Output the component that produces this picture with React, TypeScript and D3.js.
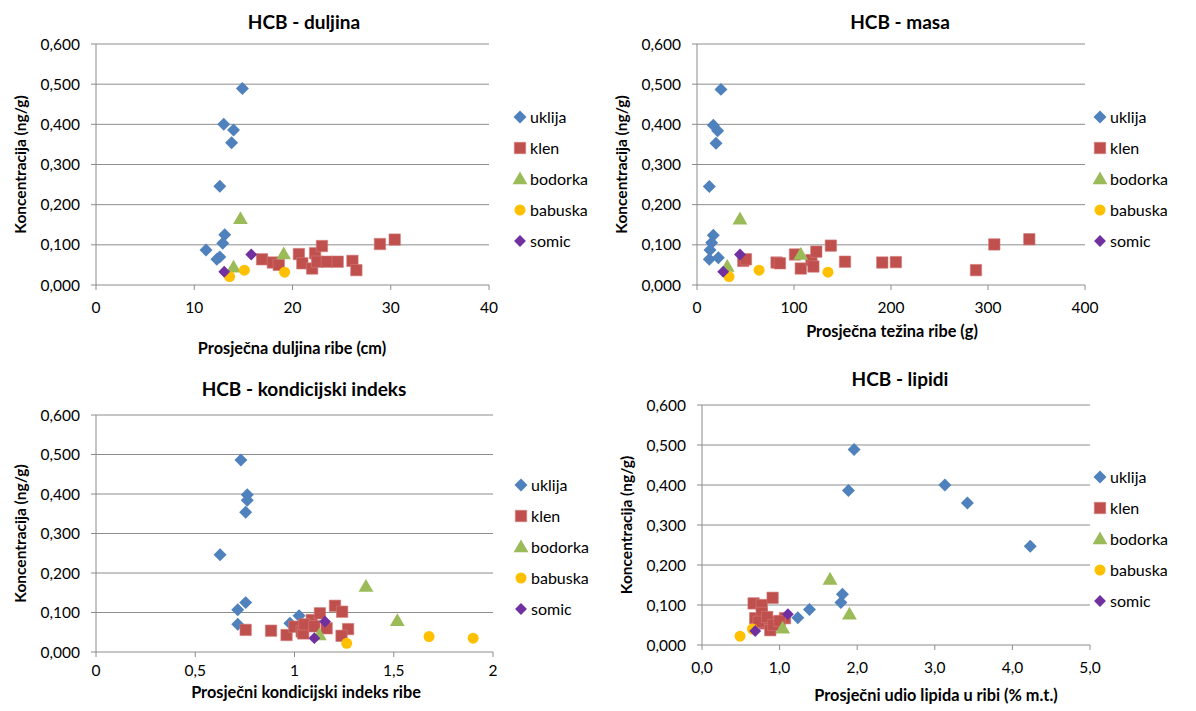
import React from "react";
import * as d3 from "d3";

const seriesNames = ["uklija", "klen", "bodorka", "babuska", "somic"];
const seriesColors = ["#4F81BD", "#C0504D", "#9BBB59", "#FFC000", "#7030A0"];
const yTicks = [0, 0.1, 0.2, 0.3, 0.4, 0.5, 0.6];

// Panel 1: duljina (cm)
const duljinaTicks = [0, 10, 20, 30, 40];
const duljinaUklijaX = [14.9, 13.0, 14.0, 13.8, 12.6, 13.1, 12.9, 11.2, 12.6, 12.3];
const duljinaUklijaY = [0.489, 0.4, 0.386, 0.354, 0.246, 0.125, 0.104, 0.087, 0.07, 0.064];
const duljinaKlenX = [16.9, 18.0, 18.6, 20.65, 21.0, 22.0, 22.3, 23.0, 22.5, 23.5, 24.6, 26.1, 26.5, 28.9, 30.4];
const duljinaKlenY = [0.064, 0.056, 0.05, 0.077, 0.054, 0.041, 0.079, 0.097, 0.058, 0.058, 0.058, 0.06, 0.037, 0.102, 0.113];
const duljinaBodorkaX = [14.7, 14.0, 19.1];
const duljinaBodorkaY = [0.165, 0.044, 0.077];
const duljinaBabuskaX = [13.6, 15.1, 19.2];
const duljinaBabuskaY = [0.021, 0.037, 0.032];
const duljinaSomicX = [13.05, 15.8];
const duljinaSomicY = [0.033, 0.076];

// Panel 2: masa (g)
const masaTicks = [0, 100, 200, 300, 400];
const masaUklijaX = [24.7, 16.8, 21.3, 19.6, 12.7, 16.8, 15.1, 13.4, 12.7, 22];
const masaUklijaY = [0.487, 0.398, 0.384, 0.353, 0.245, 0.124, 0.105, 0.087, 0.064, 0.068];
const masaKlenX = [47.7, 50.5, 82, 85.5, 101, 107, 118, 120, 123, 138, 152.6, 191, 205, 287.6, 306.5, 342.6];
const masaKlenY = [0.06, 0.064, 0.056, 0.054, 0.076, 0.041, 0.062, 0.046, 0.083, 0.098, 0.058, 0.056, 0.057, 0.037, 0.101, 0.114];
const masaBodorkaX = [44.3, 107, 31.2];
const masaBodorkaY = [0.164, 0.076, 0.046];
const masaBabuskaX = [33, 64, 135];
const masaBabuskaY = [0.021, 0.037, 0.032];
const masaSomicX = [44.3, 27];
const masaSomicY = [0.076, 0.033];

// Panel 3: kondicijski indeks
const kiTicks = [0, 0.5, 1, 1.5, 2];
const kiUklijaX = [0.73, 0.762, 0.762, 0.754, 0.625, 0.754, 0.714, 0.714, 1.023, 0.977];
const kiUklijaY = [0.486, 0.398, 0.384, 0.354, 0.246, 0.125, 0.107, 0.07, 0.092, 0.073];
const kiKlenX = [0.754, 0.882, 0.96, 1.0, 1.036, 1.044, 1.087, 1.128, 1.162, 1.204, 1.24, 1.27, 1.237, 1.05, 1.1];
const kiKlenY = [0.056, 0.054, 0.043, 0.064, 0.052, 0.047, 0.081, 0.098, 0.06, 0.117, 0.102, 0.058, 0.041, 0.07, 0.065];
const kiBodorkaX = [1.36, 1.518, 1.125];
const kiBodorkaY = [0.166, 0.079, 0.043];
const kiBabuskaX = [1.263, 1.678, 1.9];
const kiBabuskaY = [0.022, 0.039, 0.035];
const kiSomicX = [1.154, 1.1];
const kiSomicY = [0.077, 0.035];

// Panel 4: lipidi (% m.t.)
const lipidiTicks = [0, 1, 2, 3, 4, 5];
const lipidiUklijaX = [1.96, 1.887, 3.13, 3.42, 4.23, 1.81, 1.79, 1.385, 1.235];
const lipidiUklijaY = [0.489, 0.386, 0.4, 0.355, 0.247, 0.127, 0.106, 0.089, 0.068];
const lipidiKlenX = [0.665, 0.77, 0.91, 0.686, 0.77, 0.81, 0.88, 0.965, 1.07, 0.73, 0.84, 0.92, 1.0];
const lipidiKlenY = [0.104, 0.1, 0.118, 0.067, 0.08, 0.054, 0.037, 0.058, 0.067, 0.058, 0.07, 0.05, 0.06];
const lipidiBodorkaX = [1.65, 1.9, 1.04];
const lipidiBodorkaY = [0.164, 0.077, 0.042];
const lipidiBabuskaX = [0.49, 0.65];
const lipidiBabuskaY = [0.022, 0.04];
const lipidiSomicX = [1.107, 0.686];
const lipidiSomicY = [0.077, 0.035];

const FONT = "Lato, 'Open Sans', sans-serif";
const GRID = "#8c8c8c";

type Panel = {
  title: string;
  xTitle: string;
  yTitle: string;
  xTicks: number[];
  xFmt: (v: number) => string;
  xDomain: [number, number];
  xRange: [number, number];
  yRange: [number, number];
  titleX: number;
  titleY: number;
  xTickDy: number;
  xTitleX: number;
  xTitleY: number;
  yTitleX: number;
  legendX: number;
  legendY: number;
  series: [number[], number[]][];
};

const comma = (s: string) => s.replace(".", ",");

const panels: Panel[] = [
  {
    title: "HCB - duljina",
    xTitle: "Prosječna duljina ribe (cm)",
    yTitle: "Koncentracija (ng/g)",
    xTicks: duljinaTicks,
    xFmt: (v) => String(v),
    xDomain: [0, 40],
    xRange: [96, 489],
    yRange: [285, 44],
    titleX: 304,
    titleY: 29,
    xTickDy: 28,
    xTitleX: 292,
    xTitleY: 354,
    yTitleX: 20,
    legendX: 520,
    legendY: 117,
    series: [
      [duljinaUklijaX, duljinaUklijaY],
      [duljinaKlenX, duljinaKlenY],
      [duljinaBodorkaX, duljinaBodorkaY],
      [duljinaBabuskaX, duljinaBabuskaY],
      [duljinaSomicX, duljinaSomicY],
    ],
  },
  {
    title: "HCB - masa",
    xTitle: "Prosječna težina ribe (g)",
    yTitle: "Koncentracija (ng/g)",
    xTicks: masaTicks,
    xFmt: (v) => String(v),
    xDomain: [0, 400],
    xRange: [697, 1085],
    yRange: [285, 44],
    titleX: 900,
    titleY: 29,
    xTickDy: 28,
    xTitleX: 892,
    xTitleY: 337,
    yTitleX: 621,
    legendX: 1100,
    legendY: 117,
    series: [
      [masaUklijaX, masaUklijaY],
      [masaKlenX, masaKlenY],
      [masaBodorkaX, masaBodorkaY],
      [masaBabuskaX, masaBabuskaY],
      [masaSomicX, masaSomicY],
    ],
  },
  {
    title: "HCB - kondicijski indeks",
    xTitle: "Prosječni kondicijski indeks ribe",
    yTitle: "Koncentracija (ng/g)",
    xTicks: kiTicks,
    xFmt: (v) => comma(String(v)),
    xDomain: [0, 2],
    xRange: [96, 493],
    yRange: [652, 415],
    titleX: 304,
    titleY: 396,
    xTickDy: 24,
    xTitleX: 306,
    xTitleY: 698,
    yTitleX: 20,
    legendX: 521,
    legendY: 485,
    series: [
      [kiUklijaX, kiUklijaY],
      [kiKlenX, kiKlenY],
      [kiBodorkaX, kiBodorkaY],
      [kiBabuskaX, kiBabuskaY],
      [kiSomicX, kiSomicY],
    ],
  },
  {
    title: "HCB - lipidi",
    xTitle: "Prosječni udio lipida u ribi (% m.t.)",
    yTitle: "Koncentracija (ng/g)",
    xTicks: lipidiTicks,
    xFmt: (v) => comma(v.toFixed(1)),
    xDomain: [0, 5],
    xRange: [702, 1090],
    yRange: [645, 405],
    titleX: 900,
    titleY: 386,
    xTickDy: 28,
    xTitleX: 936,
    xTitleY: 701,
    yTitleX: 626,
    legendX: 1100,
    legendY: 477,
    series: [
      [lipidiUklijaX, lipidiUklijaY],
      [lipidiKlenX, lipidiKlenY],
      [lipidiBodorkaX, lipidiBodorkaY],
      [lipidiBabuskaX, lipidiBabuskaY],
      [lipidiSomicX, lipidiSomicY],
    ],
  },
];

const symbolTypes = [d3.symbolSquare, d3.symbolSquare, d3.symbolTriangle, d3.symbolCircle, d3.symbolSquare];
const symbolSizes = [84, 130, 95, 95, 70];
const symbolRot = [45, 0, 0, 0, 45];

function Marker({ i, x, y }: { i: number; x: number; y: number }) {
  const path = d3.symbol().type(symbolTypes[i]).size(symbolSizes[i])() || "";
  const dy = i === 2 ? 1 : 0;
  return (
    <path
      d={path}
      transform={`translate(${x},${y + dy}) rotate(${symbolRot[i]})`}
      fill={seriesColors[i]}
      stroke={i === 1 ? "#d07a78" : "none"}
      strokeWidth={i === 1 ? 0.6 : 0}
    />
  );
}

function PanelChart({ p }: { p: Panel }) {
  const x = d3.scaleLinear().domain(p.xDomain).range(p.xRange);
  const y = d3.scaleLinear().domain([0, 0.6]).range(p.yRange);
  const [x0, x1] = p.xRange;
  const y0 = p.yRange[0];
  const yTop = p.yRange[1];
  const yMid = (y0 + yTop) / 2;
  return (
    <g>
      <text x={p.titleX} y={p.titleY} textAnchor="middle" fontSize={19} fontWeight="bold" fill="#000">
        {p.title}
      </text>
      {yTicks.map((t) => (
        <g key={"g" + t}>
          <line x1={x0 - 5} x2={x1} y1={y(t)} y2={y(t)} stroke={GRID} strokeWidth={1} />
          <text x={x0 - 16} y={y(t) + 5.5} textAnchor="end" fontSize={15.5} fill="#000">
            {comma(t.toFixed(3))}
          </text>
        </g>
      ))}
      <line x1={x0} x2={x0} y1={yTop} y2={y0} stroke={GRID} strokeWidth={1} />
      {p.xTicks.map((t) => (
        <g key={"x" + t}>
          <line x1={x(t)} x2={x(t)} y1={y0} y2={y0 + 5} stroke={GRID} strokeWidth={1} />
          <text x={x(t)} y={y0 + p.xTickDy} textAnchor="middle" fontSize={15.5} fill="#000">
            {p.xFmt(t)}
          </text>
        </g>
      ))}
      <text x={p.xTitleX} y={p.xTitleY} textAnchor="middle" fontSize={16.3} fontWeight="bold" fill="#000">
        {p.xTitle}
      </text>
      <text
        transform={`translate(${p.yTitleX + 6},${yMid}) rotate(-90)`}
        textAnchor="middle"
        fontSize={15.5}
        fontWeight="bold"
        fill="#000"
      >
        {p.yTitle}
      </text>
      {p.series.map(([xs, ys], si) => (
        <g key={"s" + si}>
          {xs.map((v, k) => (
            <Marker key={k} i={si} x={x(v)} y={y(ys[k])} />
          ))}
        </g>
      ))}
      {seriesNames.map((n, si) => (
        <g key={"l" + n}>
          <Marker i={si} x={p.legendX} y={p.legendY + si * 31} />
          <text x={p.legendX + 10} y={p.legendY + si * 31 + 5.5} fontSize={16} fill="#000">
            {n}
          </text>
        </g>
      ))}
    </g>
  );
}

export default function App() {
  return (
    <svg
      width={1196}
      height={711}
      style={{ position: "absolute", left: 0, top: 0, background: "#fff" }}
      fontFamily={FONT}
    >
      <rect width={1196} height={711} fill="#fff" />
      {panels.map((p) => (
        <PanelChart key={p.title} p={p} />
      ))}
    </svg>
  );
}
